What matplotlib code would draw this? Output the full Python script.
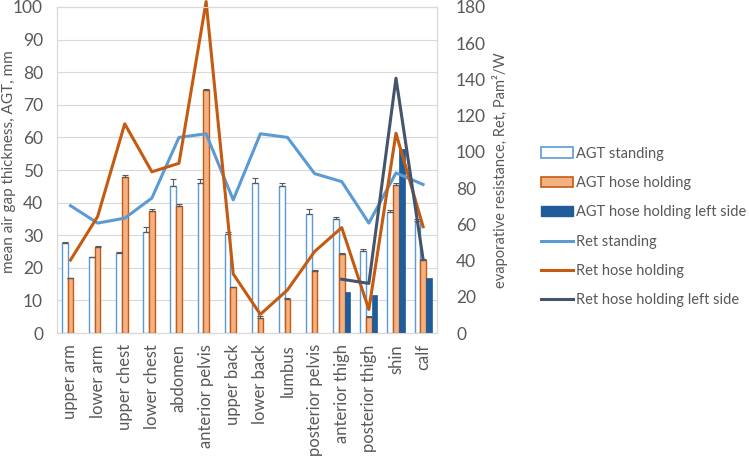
import numpy as np
import matplotlib
matplotlib.use("Agg")
import matplotlib.pyplot as plt
from matplotlib.lines import Line2D
from matplotlib.patches import Patch

plt.rcParams["font.family"] = ["Lato", "DejaVu Sans"]

sites = ["upper arm", "lower arm", "upper chest", "lower chest", "abdomen",
         "anterior pelvis", "upper back", "lower back", "lumbus",
         "posterior pelvis", "anterior thigh", "posterior thigh", "shin", "calf"]

agt_stand     = [27.5, 23.2, 24.5, 31.0, 45.0, 46.0, 30.5, 46.0, 45.0, 36.5, 35.0, 25.2, 37.0, 34.5]
agt_stand_err = [0.3, 0.2, 0.3, 1.6, 2.3, 1.2, 0.6, 1.5, 0.9, 1.4, 0.7, 0.5, 0.8, 0.5]
agt_hose      = [16.8, 26.5, 48.0, 37.5, 39.0, 74.5, 14.0, 4.7, 10.5, 19.0, 24.3, 5.0, 45.5, 22.5]
agt_hose_err  = [0.2, 0.2, 0.6, 0.5, 0.5, 0.4, 0.2, 0.6, 0.2, 0.3, 0.3, 0.3, 0.4, 0.3]
agt_left      = [np.nan] * 10 + [12.5, 11.7, 56.5, 17.0]

ret_stand = [70.3, 60.7, 63.4, 74.5, 108, 110, 73.5, 110, 108, 88, 83.6, 60.7, 88.4, 82]
ret_hose  = [40.3, 64.3, 115.5, 89, 93.7, 183, 32.6, 10.3, 23.8, 45, 58.2, 13, 110.3, 58.7]
ret_left  = [np.nan] * 10 + [29.7, 27.4, 140.7, 40.7]

C_STAND = "#5B9BD5"
C_HOSE_FILL = "#F4B183"
C_HOSE = "#C55A11"
C_LEFT = "#1F5C99"
C_RET_LEFT = "#44546A"
GREY = "#595959"

fig = plt.figure(figsize=(7.49, 4.57), dpi=100, facecolor="white")
ax = fig.add_axes([0.076, 0.2713, 0.507, 0.7134])
ax2 = ax.twinx()

x = np.arange(len(sites))
w = 0.21
err_kw = dict(ecolor=GREY, elinewidth=0.8, capsize=2.5, capthick=0.8)
ax.bar(x - w, agt_stand, w, color="white", edgecolor=C_STAND, linewidth=1.0,
       yerr=[np.zeros(len(x)), agt_stand_err], error_kw=err_kw, zorder=3)
ax.bar(x, agt_hose, w, color=C_HOSE_FILL, edgecolor=C_HOSE, linewidth=1.0,
       yerr=[np.zeros(len(x)), agt_hose_err], error_kw=err_kw, zorder=3)
ax.bar(x + w, agt_left, w, color=C_LEFT, edgecolor=C_LEFT, linewidth=0.5, zorder=3)

ax2.plot(x, ret_stand, color=C_STAND, lw=2.2, clip_on=False)
ax2.plot(x, ret_hose, color=C_HOSE, lw=2.2, clip_on=False)
ax2.plot(x, ret_left, color=C_RET_LEFT, lw=2.2, clip_on=False)

ax.set_xlim(-0.5, len(sites) - 0.5)
ax.set_ylim(0, 100)
ax2.set_ylim(0, 180)
ax.set_yticks(np.arange(0, 101, 10))
ax2.set_yticks(np.arange(0, 181, 20))
ax.yaxis.grid(True, color="#D9D9D9", lw=0.8)
ax.set_axisbelow(True)
ax.set_xticks(x)
ax.set_xticklabels(sites, rotation=90, fontsize=12, color=GREY)
for a in (ax, ax2):
    a.tick_params(length=0, labelsize=12.5, labelcolor=GREY)
    for s in a.spines.values():
        s.set_color("#D9D9D9")
        s.set_linewidth(0.8)
ax.tick_params(axis="y", pad=10)
ax.tick_params(axis="x", pad=8, labelsize=12)
ax2.tick_params(axis="y", pad=14)

ax.set_ylabel("mean air gap thickness, AGT, mm", fontsize=11, color=GREY)
ax.yaxis.set_label_coords(-0.108, 0.525)
ax2.set_ylabel("evaporative resistance, Ret, Pam\u00b2/W", fontsize=10.5, color=GREY, labelpad=4)

handles = [
    Patch(facecolor="white", edgecolor=C_STAND, linewidth=1.2),
    Patch(facecolor=C_HOSE_FILL, edgecolor=C_HOSE, linewidth=1.2),
    Patch(facecolor=C_LEFT, edgecolor=C_LEFT),
    Line2D([], [], color=C_STAND, lw=2.2),
    Line2D([], [], color=C_HOSE, lw=2.2),
    Line2D([], [], color=C_RET_LEFT, lw=2.2),
]
labels = ["AGT standing", "AGT hose holding", "AGT hose holding left side",
          "Ret standing", "Ret hose holding", "Ret hose holding left side"]
fig.legend(handles, labels, loc="upper left", bbox_to_anchor=(0.712, 0.695),
           frameon=False, fontsize=10.5, labelcolor=GREY, handlelength=2.2,
           handleheight=0.7, handletextpad=0.2, labelspacing=1.05, borderpad=0)

fig.savefig("out.png", dpi=100, facecolor="white")
